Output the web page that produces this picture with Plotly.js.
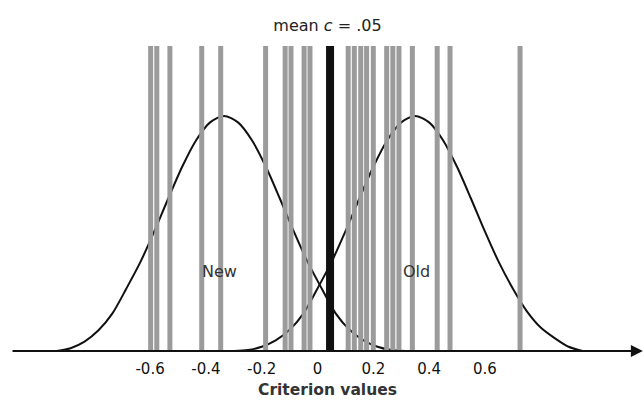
<!DOCTYPE html>
<html>
<head>
<meta charset="utf-8">
<script src="https://cdn.plot.ly/plotly-3.0.1.min.js"></script>
<style>html,body{margin:0;padding:0;background:#fff}#chart{width:644px;height:400px}</style>
</head>
<body>
<div id="chart"></div>
<script>
// Criterion values of individual observers (grey lines)
const criteria = [-0.598,-0.576,-0.529,-0.415,-0.347,-0.186,-0.116,-0.095,-0.048,-0.027,
                  0.110,0.132,0.155,0.176,0.200,0.248,0.270,0.292,0.340,0.429,0.475,0.726];
const meanC = 0.045;
const meanLabel = 'mean <i>c</i> = .05';

// "New" distribution
const newX = [-0.935,-0.885,-0.835,-0.785,-0.735,-0.685,-0.635,-0.585,-0.535,-0.485,-0.435,-0.385,-0.335,
              -0.285,-0.235,-0.185,-0.135,-0.085,-0.035,0.015,0.065,0.115,0.165,0.215,0.265,0.315];
const newY = [0.000,0.012,0.040,0.088,0.160,0.266,0.378,0.509,0.649,0.784,0.897,0.973,1.000,
              0.973,0.897,0.784,0.649,0.509,0.378,0.266,0.160,0.090,0.045,0.018,0.004,0.000];
// "Old" distribution
const oldX = [-0.300,-0.250,-0.200,-0.150,-0.100,-0.050,0.000,0.050,0.100,0.150,0.200,0.250,0.300,0.350,
              0.400,0.450,0.500,0.550,0.600,0.650,0.700,0.750,0.800,0.850,0.900,0.950];
const oldY = [0.000,0.004,0.018,0.045,0.090,0.160,0.266,0.378,0.509,0.649,0.784,0.897,0.973,1.000,
              0.973,0.897,0.784,0.649,0.509,0.378,0.266,0.170,0.100,0.055,0.018,0.000];

const tickVals = [-0.6,-0.4,-0.2,0,0.2,0.4,0.6];
const tickText = ['-0.6','-0.4','-0.2','0','0.2','0.4','0.6'];
const yTop = 1.298;

const gx = [], gy = [];
criteria.forEach(v => { gx.push(v, v, null); gy.push(0, yTop, null); });

const traces = [
  {x:newX, y:newY, mode:'lines', line:{color:'#111', width:2, shape:'spline', smoothing:0.8}, hoverinfo:'skip'},
  {x:oldX, y:oldY, mode:'lines', line:{color:'#111', width:2, shape:'spline', smoothing:0.8}, hoverinfo:'skip'},
  {x:gx, y:gy, mode:'lines', line:{color:'#9b9b9b', width:5}, hoverinfo:'skip'},
  {x:[meanC, meanC], y:[0, yTop], mode:'lines', line:{color:'#111', width:8}, hoverinfo:'skip'}
];

const xr = [-1.0986, 1.1703];
const layout = {
  width:644, height:400,
  margin:{l:11, r:0, t:46, b:49},
  paper_bgcolor:'#fff', plot_bgcolor:'#fff',
  showlegend:false,
  title:{text:meanLabel, x:0.5, xref:'paper', y:0.9375, yref:'container', yanchor:'middle',
         font:{family:'DejaVu Sans', size:16, color:'#222'}},
  xaxis:{range:xr, showgrid:false, zeroline:false, showline:false,
         tickmode:'array', tickvals:tickVals, ticktext:tickText, ticks:'', ticklabelstandoff:7,
         tickfont:{family:'DejaVu Sans', size:15, color:'#111'},
         title:{text:'Criterion values', font:{family:'DejaVu Sans', size:15.5, weight:'bold', color:'#333'}, standoff:7}},
  yaxis:{range:[0, yTop], visible:false},
  annotations:[
    {x:xr[1]-0.004, y:0, ax:xr[0], ay:0, axref:'x', ayref:'y', xref:'x', yref:'y', text:'',
     showarrow:true, arrowhead:2, arrowsize:1.2, arrowwidth:2, arrowcolor:'#111'},
    {x:-0.35, y:(351-271)/305*yTop, text:'New', showarrow:false, font:{family:'DejaVu Sans', size:16, color:'#333'}},
    {x:0.355, y:(351-271)/305*yTop, text:'Old', showarrow:false, font:{family:'DejaVu Sans', size:16, color:'#333'}}
  ]
};
Plotly.newPlot('chart', traces, layout, {staticPlot:true, displayModeBar:false});
</script>
</body>
</html>
